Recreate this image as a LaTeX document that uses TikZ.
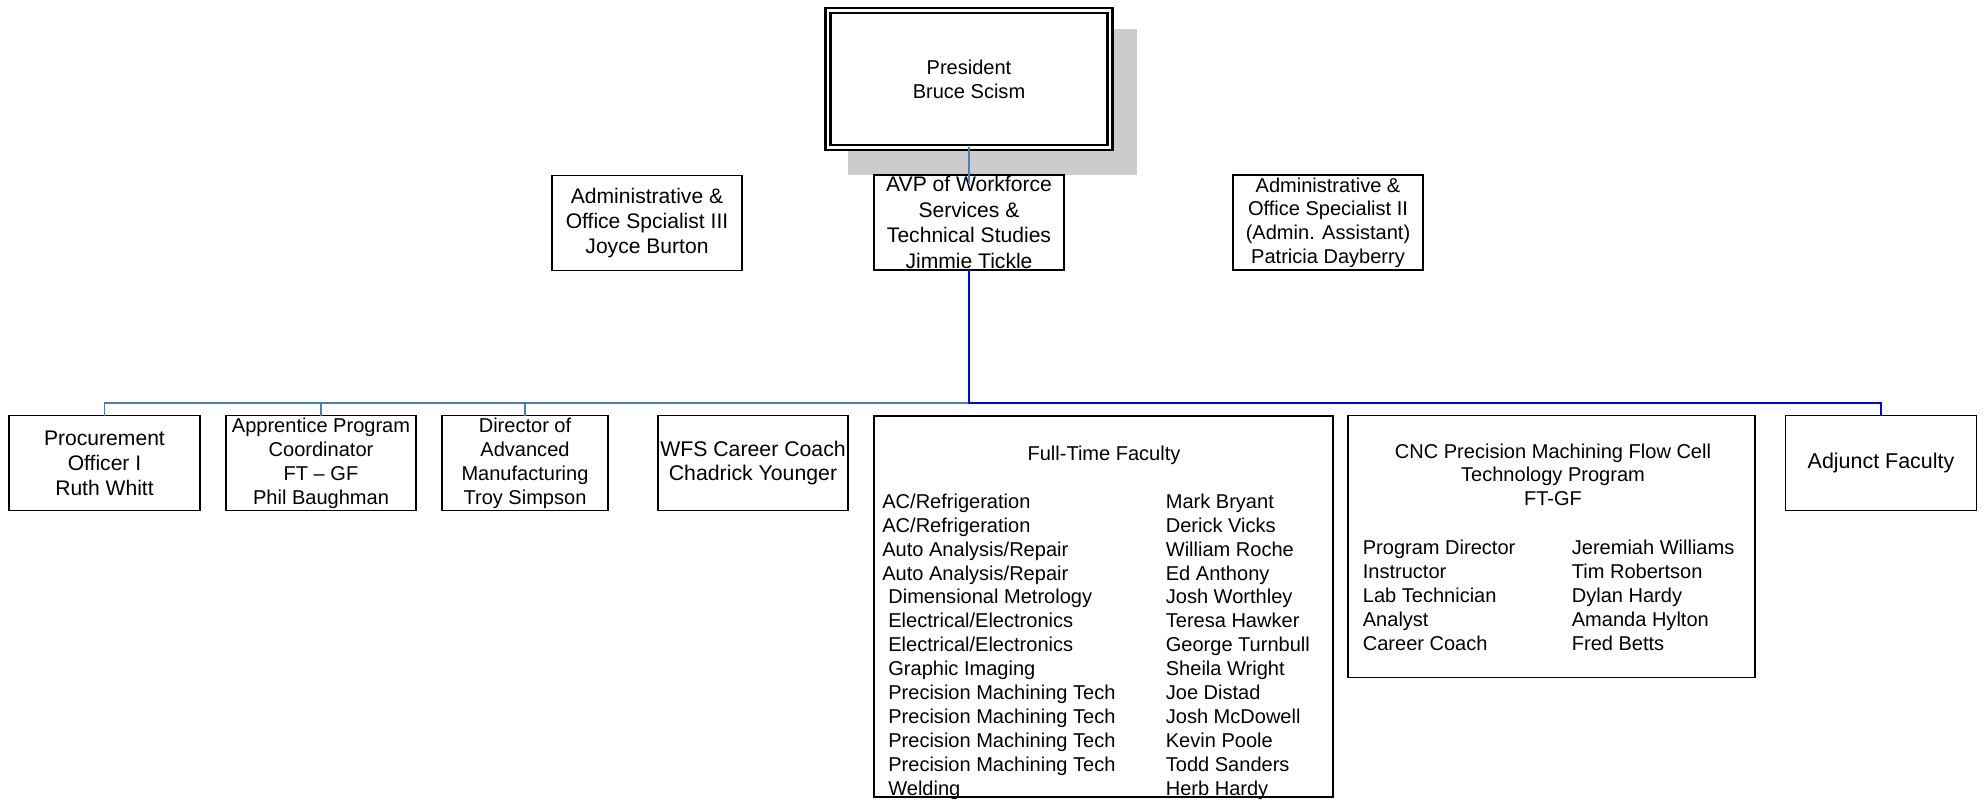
\documentclass[tikz,border=0pt]{standalone}
\usepackage{fontspec}
\setmainfont{Liberation Sans}
\usepackage{tikz}
\definecolor{busblue}{RGB}{74,126,187}

\begin{document}
\begin{tikzpicture}
	\tikzstyle{unit}=[draw,line width=1pt,inner sep=0pt,outer sep=0pt,align=center,minimum width=3.8cm,minimum height=1.9cm,font=\fontsize{11.4}{13.7}\selectfont]
	\tikzstyle{bigtext}=[font=\fontsize{12}{14.3}\selectfont]
	\tikzstyle{entry}=[inner sep=0pt,anchor=base west,font=\fontsize{11.4}{13.7}\selectfont]
	\tikzstyle{busleft}=[draw=busblue,line width=1.1pt]
	\tikzstyle{busright}=[draw=blue,line width=1.1pt]
	
	\useasboundingbox (0,0) rectangle (39.72,15.98);
	
	\fill[black!20] (16.96,12.48) rectangle (22.74,15.40);
	\node[unit,fill=white,double,line width=1.3pt,double distance=1.5pt,minimum width=5.64cm,minimum height=2.73cm](pres) at (19.38,14.40){President\\Bruce Scism};
	
	\node[unit,bigtext](adm3) at (12.94,11.52){Administrative \&\\Office Spcialist III\\Joyce Burton};
	\node[unit,bigtext,font=\fontsize{12}{14.5}\selectfont](avp) at (19.38,11.53){AVP of Workforce\\Services \&\\Technical Studies\\Jimmie Tickle};
	\node[unit,font=\fontsize{11.4}{13.4}\selectfont](adm2) at (26.56,11.53){Administrative \&\\Office Specialist II\\(Admin. Assistant)\\Patricia Dayberry};
	
	\node[unit,bigtext,minimum width=3.82cm](proc) at (2.09,6.72){Procurement\\Officer I\\Ruth Whitt};
	\node[unit](appr) at (6.42,6.72){Apprentice Program\\Coordinator\\FT \textendash{} GF\\Phil Baughman};
	\node[unit,minimum width=3.32cm](dir) at (10.50,6.72){Director of\\Advanced\\Manufacturing\\Troy Simpson};
	\node[unit,font=\fontsize{12.1}{13.1}\selectfont](wfs) at (15.06,6.72){WFS Career Coach\\Chadrick Younger};
	\node[unit,font=\fontsize{12.2}{14.5}\selectfont,minimum width=3.82cm](adj) at (37.62,6.72){Adjunct Faculty};
	
	\node[unit,minimum width=9.18cm,minimum height=7.62cm](ft) at (22.07,3.85){};
	\node[entry,anchor=base](fthead) at (22.08,6.77){Full-Time Faculty};
	\foreach \lx/\job/\name [count=\i] in {17.64/{AC/Refrigeration}/Mark Bryant,
		17.64/{AC/Refrigeration}/Derick Vicks,
		17.64/{Auto Analysis/Repair}/William Roche,
		17.64/{Auto Analysis/Repair}/Ed Anthony,
		17.76/Dimensional Metrology/Josh Worthley,
		17.76/{Electrical/Electronics}/Teresa Hawker,
		17.76/{Electrical/Electronics}/George Turnbull,
		17.76/Graphic Imaging/Sheila Wright,
		17.76/Precision Machining Tech/Joe Distad,
		17.76/Precision Machining Tech/Josh McDowell,
		17.76/Precision Machining Tech/Kevin Poole,
		17.76/Precision Machining Tech/Todd Sanders,
		17.76/Welding/Herb Hardy}{
		\node[entry](ftjob\i) at (\lx,{5.814-0.478*(\i-1)}){\job};
		\node[entry](ftname\i) at (23.31,{5.814-0.478*(\i-1)}){\name};
	}
	
	\node[unit,minimum width=8.14cm,minimum height=5.24cm](cnc) at (31.03,5.05){};
	\node[unit,draw=none,minimum width=0pt,minimum height=0pt,font=\fontsize{11.4}{13.3}\selectfont](cnchead) at (31.06,6.49){CNC Precision Machining Flow Cell\\Technology Program\\FT-GF};
	\foreach \job/\name [count=\i] in {Program Director/Jeremiah Williams,Instructor/Tim Robertson,Lab Technician/Dylan Hardy,Analyst/Amanda Hylton,Career Coach/Fred Betts}{
		\node[entry](cncjob\i) at (27.25,{4.90-0.48*(\i-1)}){\job};
		\node[entry](cncname\i) at (31.43,{4.90-0.48*(\i-1)}){\name};
	}
	
	\coordinate (bus) at (19.38,7.92);
	\draw[busleft] (pres.south) -- ([yshift=-0.18cm]avp.north);
	\draw[busleft] (proc.north) |- (bus);
	\draw[busleft] (appr.north) |- (bus);
	\draw[busleft] (dir.north) |- (bus);
	\draw[busright] (avp.south) -- (bus) -| (adj.north);
	
\end{tikzpicture}
\end{document}
